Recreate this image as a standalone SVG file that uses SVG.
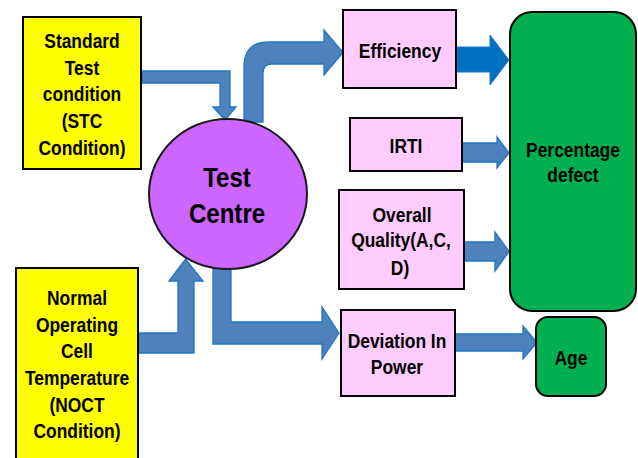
<svg xmlns="http://www.w3.org/2000/svg" width="638" height="458" viewBox="0 0 638 458">
<style>
.box{stroke:#000;stroke-width:2}
.y{fill:#FFFF00}
.p{fill:#FFCCFF}
.g{fill:#00B050}
.arr{fill:#4F81BD;stroke:#1F77C4;stroke-width:1.3;stroke-linejoin:miter}
.t{font-family:"Liberation Sans",Arial,sans-serif;font-weight:bold;font-size:21px;fill:#000;text-anchor:middle}
.big{font-size:28px}
</style>
<rect width="638" height="458" fill="#fff"/>
<g id="connectors">
<path class="arr" d="M142,71 L230,71 L230,107 L236,107 L225,120 L213,107 L220,107 L220,83 L142,83 Z"/>
<path class="arr" d="M244,122 L244,67 Q244,42 269,42 L324,42 L324,30 L343,52.5 L324,75 L324,64 L272,64 Q263,64 263,73 L263,122 Z"/>
<path d="M457,47 L490,47 L490,35 L509,60 L490,85 L490,72 L457,72 Z" fill="#0070C0" stroke="#1F77C4" stroke-width="1"/>
<path class="arr" d="M462,143 L497,143 L497,137 L509,153 L497,168 L497,162 L462,162 Z"/>
<path class="arr" d="M464,242 L495,242 L495,232 L509,251.5 L495,271 L495,261 L464,261 Z"/>
<path class="arr" d="M455,334 L523,334 L523,326 L537,342.5 L523,359 L523,351 L455,351 Z"/>
<path class="arr" d="M213,266 L213,344 L322,344 L322,359 L339,333 L322,307 L322,322 L231,322 L231,266 Z"/>
<path class="arr" d="M138,333 L178,333 L178,281 L169,281 L185.5,259 L203,281 L194,281 L194,353 L138,353 Z"/>
</g>
<g id="stc">
<rect class="box y" x="23" y="17" width="118" height="152"/>
<text class="t" transform="matrix(0.83 0 0 1 82 48)">Standard</text>
<text class="t" transform="matrix(0.83 0 0 1 82 75)">Test</text>
<text class="t" transform="matrix(0.83 0 0 1 82 101)">condition</text>
<text class="t" transform="matrix(0.83 0 0 1 82 128)">(STC</text>
<text class="t" transform="matrix(0.83 0 0 1 82 155)">Condition)</text>
</g>
<g id="noct">
<rect class="box y" x="16" y="268" width="122" height="200"/>
<text class="t" transform="matrix(0.83 0 0 1 77 305)">Normal</text>
<text class="t" transform="matrix(0.83 0 0 1 77 332)">Operating</text>
<text class="t" transform="matrix(0.83 0 0 1 77 358)">Cell</text>
<text class="t" transform="matrix(0.83 0 0 1 77 385)">Temperature</text>
<text class="t" transform="matrix(0.83 0 0 1 77 412)">(NOCT</text>
<text class="t" transform="matrix(0.83 0 0 1 77 438)">Condition)</text>
</g>
<g id="test-centre">
<ellipse cx="228" cy="194" rx="79" ry="75" fill="#CC66FF" stroke="#1a1a1a" stroke-width="2"/>
<text class="t big" transform="matrix(0.86 0 0 1 227 187)">Test</text>
<text class="t big" transform="matrix(0.86 0 0 1 227 223)">Centre</text>
</g>
<g id="efficiency">
<rect class="box p" x="343" y="10" width="113" height="78"/>
<text class="t" transform="matrix(0.83 0 0 1 400 58)">Efficiency</text>
</g>
<g id="irti">
<rect class="box p" x="350" y="118" width="112" height="53"/>
<text class="t" transform="matrix(0.83 0 0 1 406 153)">IRTI</text>
</g>
<g id="overall">
<rect class="box p" x="339" y="190" width="125" height="99"/>
<text class="t" transform="matrix(0.83 0 0 1 402 222)">Overall</text>
<text class="t" transform="matrix(0.83 0 0 1 401 247)">Quality(A,C,</text>
<text class="t" transform="matrix(0.83 0 0 1 400 275)">D)</text>
</g>
<g id="deviation">
<rect class="box p" x="341" y="310" width="114" height="86"/>
<text class="t" transform="matrix(0.83 0 0 1 397 348)">Deviation In</text>
<text class="t" transform="matrix(0.83 0 0 1 397 374)">Power</text>
</g>
<g id="percentage">
<rect class="box g" x="510" y="12" width="126" height="299" rx="22"/>
<text class="t" transform="matrix(0.83 0 0 1 573 157)">Percentage</text>
<text class="t" transform="matrix(0.83 0 0 1 573 182)">defect</text>
</g>
<g id="age">
<rect class="box g" x="536" y="317" width="70" height="79" rx="12"/>
<text class="t" transform="matrix(0.83 0 0 1 571 365)">Age</text>
</g>
</svg>
